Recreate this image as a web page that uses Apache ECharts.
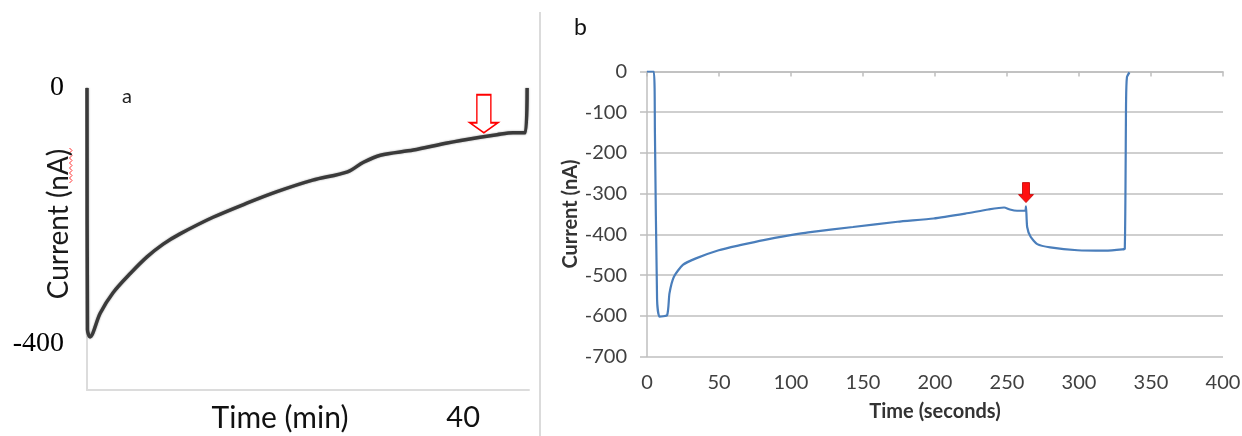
<!DOCTYPE html>
<html>
<head>
<meta charset="utf-8">
<script src="https://cdn.jsdelivr.net/npm/echarts@6/dist/echarts.min.js"></script>
<style>
html,body{margin:0;padding:0;background:#fff;}
#c{width:1242px;height:436px;}
</style>
</head>
<body>
<div id="c"></div>
<script>
// Panel a: time (min) vs current (nA)
const aTime    = [0, 0.05, 0.32, 1.4, 2.77, 4.6, 6.38, 8.1, 9.89, 13.4, 17.0, 20.2, 24.0, 27.7, 29.4, 31.2, 34.7, 38.3, 41.8, 43.6, 45.3, 46.6, 46.8];
const aCurrent = [0, -378, -389, -352, -320, -290, -264, -244, -228, -202, -180, -162, -144, -131, -116, -105, -97, -86, -77, -73, -70, -70, 0];
const aYTicks = [0, -400];
const aXTicks = [40];

// Panel b: time (seconds) vs current (nA)
const bTime    = [0, 4.7, 5.5, 7, 8.7, 14, 15.6, 18.7, 24.9, 34, 49.8, 65.4, 81, 99.7, 112, 143, 174, 199, 221, 237, 248, 252, 257, 262.6, 263.2, 264, 266.4, 271, 280, 299, 318, 330, 331.8, 332.7, 333.3, 335];
const bCurrent = [0, 0, -150, -560, -602, -598, -545, -504, -475, -459, -439, -426, -414, -402, -395, -382, -369, -361, -349, -339, -334, -339, -342, -342, -331, -382, -406, -424, -432, -439, -440, -437, -435, -71, -14, -2];
const bXTicks = [0, 50, 100, 150, 200, 250, 300, 350, 400];
const bYTicks = [0, -100, -200, -300, -400, -500, -600, -700];

const arrowA = { t: 42.2, v: -70 };
const arrowB = { t: 263.2, v: -322 };

const zip = (xs, ys) => xs.map((x, i) => [x, ys[i]]);
const chart = echarts.init(document.getElementById('c'));

const bLabel = { color: '#404040', fontFamily: 'Lato', fontSize: 20 };

// spell-check squiggle beside "nA"
const squiggle = [];
for (let y = 148; y <= 184; y += 2.5) squiggle.push([(squiggle.length % 2) ? 72 : 69.5, y]);

chart.setOption({
  animation: false,
  grid: [
    { left: 87, top: 88, width: 442, height: 302, containLabel: false, outerBoundsMode: 'none' },
    { left: 647, top: 71.5, width: 576, height: 285, containLabel: false, outerBoundsMode: 'none' }
  ],
  xAxis: [
    {
      gridIndex: 0, type: 'value', min: 0, max: 47, nameMoveOverlap: false,
      axisLine: { onZero: false, lineStyle: { color: '#dcdcdc', width: 2 } },
      axisTick: { show: false }, splitLine: { show: false },
      axisLabel: { customValues: aXTicks, color: '#111', fontFamily: 'Lato', fontSize: 29, margin: 13 },
      name: 'Time (min)', nameLocation: 'middle', nameGap: 13,
      nameTextStyle: { color: '#111', fontFamily: 'Lato', fontSize: 30, padding: [0, 56, 0, 0] }
    },
    {
      gridIndex: 1, type: 'value', min: 0, max: 400, interval: 50,
      axisLine: { lineStyle: { color: '#bfbfbf', width: 1.5 } },
      axisTick: { show: true, length: 5, lineStyle: { color: '#bfbfbf', width: 1.5 } },
      splitLine: { show: false },
      axisLabel: Object.assign({ margin: 16, customValues: bXTicks }, bLabel),
      name: 'Time (seconds)', nameLocation: 'middle', nameGap: 45,
      nameTextStyle: { color: '#333', fontFamily: 'Lato', fontSize: 20, fontWeight: 'bold' }
    }
  ],
  yAxis: [
    {
      gridIndex: 0, type: 'value', min: -472, max: 0, nameMoveOverlap: false,
      axisLine: { show: true, onZero: false, lineStyle: { color: '#dcdcdc', width: 2 } },
      axisTick: { show: false }, splitLine: { show: false },
      axisLabel: { customValues: aYTicks, color: '#000', fontFamily: 'Liberation Serif', fontSize: 28, margin: 23 },
      name: 'Current (nA)', nameLocation: 'middle', nameGap: 14, nameRotate: 90,
      nameTextStyle: { color: '#1a1a1a', fontFamily: 'Lato', fontSize: 28, padding: [0, 0, 0, 30] }
    },
    {
      gridIndex: 1, type: 'value', min: -700, max: 0, interval: 100,
      axisLine: { show: true, lineStyle: { color: '#bfbfbf', width: 1.5 } },
      axisTick: { show: true, length: 7, lineStyle: { color: '#bfbfbf', width: 1.5 } },
      splitLine: { show: true, lineStyle: { color: '#bfbfbf', width: 1.5 } },
      axisLabel: Object.assign({ margin: 20, customValues: bYTicks }, bLabel),
      name: 'Current (nA)', nameLocation: 'middle', nameGap: 65, nameRotate: 90,
      nameTextStyle: { color: '#333', fontFamily: 'Lato', fontSize: 20, fontWeight: 'bold' }
    }
  ],
  series: [
    {
      type: 'line', xAxisIndex: 0, yAxisIndex: 0, data: zip(aTime, aCurrent),
      showSymbol: false, smooth: 0.3,
      lineStyle: { color: '#3a3a3a', width: 3.5, shadowBlur: 2, shadowColor: 'rgba(0,0,0,0.4)' },
      markPoint: {
        symbol: 'path://M7,0 L21,0 L21,28 L28,28 L14,38 L0,28 L7,28 Z',
        symbolSize: [28, 38], symbolOffset: [0, '-50%'],
        itemStyle: { color: 'rgba(255,255,255,0)', borderColor: '#ff0000', borderWidth: 1.6 },
        label: { show: false },
        data: [{ coord: [arrowA.t, arrowA.v] }]
      }
    },
    {
      type: 'line', xAxisIndex: 1, yAxisIndex: 1, data: zip(bTime, bCurrent),
      showSymbol: false, smooth: 0.2,
      lineStyle: { color: '#4a7ebb', width: 2.2 },
      markPoint: {
        symbol: 'path://M4,0 L11,0 L11,12 L15,12 L7.5,20 L0,12 L4,12 Z',
        symbolSize: [15, 20], symbolOffset: [0, '-50%'],
        itemStyle: { color: '#ff1010', borderColor: '#c00000', borderWidth: 0.8 },
        label: { show: false },
        data: [{ coord: [arrowB.t, arrowB.v] }]
      }
    }
  ],
  graphic: [
    { type: 'line', shape: { x1: 540, y1: 12, x2: 540, y2: 436 }, style: { stroke: '#cfcfcf', lineWidth: 1.5 } },
    { type: 'polyline', shape: { points: squiggle }, style: { stroke: '#ff3030', lineWidth: 1, fill: null } },
    { type: 'text', left: 122, top: 87, style: { text: 'a', font: '20px Lato', fill: '#222' } },
    { type: 'text', left: 574, top: 16, style: { text: 'b', font: '23px Lato', fill: '#111' } }
  ]
});
</script>
</body>
</html>
